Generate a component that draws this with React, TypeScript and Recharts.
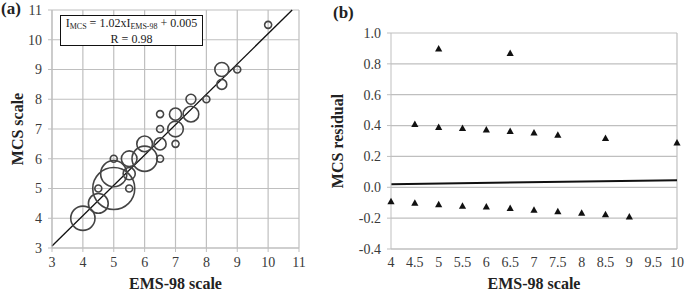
import React from 'react'
import {
  ScatterChart,
  Scatter,
  XAxis,
  YAxis,
  ZAxis,
  CartesianGrid,
  ReferenceLine,
  Label,
} from 'recharts'

// (a) bubble plot: EMS-98 vs MCS, z = number of observations
const bubbleEms = [4, 4.5, 4.5, 5, 5, 5, 5.5, 5.5, 5.5, 6, 6, 6.5, 6.5, 6.5, 6.5, 7, 7, 7, 7.5, 7.5, 8, 8.5, 8.5, 9, 10]
const bubbleMcs = [4, 4.5, 5, 5, 5.5, 6, 5, 5.5, 6, 6, 6.5, 6, 6.5, 7, 7.5, 6.5, 7, 7.5, 7.5, 8, 8, 8.5, 9, 9, 10.5]
const bubbleCount = [12, 8, 1, 36, 14, 1, 1, 3, 5, 13, 5, 1, 3, 1, 1, 1, 5, 3, 5, 2, 1, 2, 4, 1, 1]

const scaleTicks = [3, 4, 5, 6, 7, 8, 9, 10, 11]
const fitSlope = 1.02
const fitIntercept = 0.005

// (b) residuals
const residualEms = [5, 6.5, 4.5, 5, 5.5, 6, 6.5, 7, 7.5, 8.5, 10, 4, 4.5, 5, 5.5, 6, 6.5, 7, 7.5, 8, 8.5, 9]
const residualValues = [0.9, 0.87, 0.41, 0.39, 0.385, 0.375, 0.365, 0.355, 0.34, 0.32, 0.29, -0.09, -0.1, -0.11, -0.12, -0.125, -0.135, -0.145, -0.155, -0.165, -0.175, -0.19]
const residualTrend = [0.02, 0.045]
const residualXTicks = [4, 4.5, 5, 5.5, 6, 6.5, 7, 7.5, 8, 8.5, 9, 9.5, 10]
const residualYTicks = [-0.4, -0.2, 0, 0.2, 0.4, 0.6, 0.8, 1.0]

const bubbles = bubbleEms.map((x, i) => ({ x, y: bubbleMcs[i], z: bubbleCount[i] }))
const residuals = residualEms.map((x, i) => ({ x, y: residualValues[i] }))

const SERIF = 'Liberation Serif'
const GRID = '#bfbfbf'

// axis tick text, drawn by hand so the serif font sticks
function SerifTick({ x, y, payload, orientation, digits }: any) {
  const label = digits ? Number(payload.value).toFixed(digits) : String(payload.value)
  const isY = orientation === 'left'
  return (
    <text
      x={x}
      y={y}
      textAnchor={isY ? 'end' : 'middle'}
      dy={isY ? '0.35em' : '0.71em'}
      fontFamily={SERIF}
      fontSize={14}
      fill="#3a3a3a"
    >
      {label}
    </text>
  )
}

function VerticalTitle({ viewBox, text, cx }: any) {
  const cy = viewBox.y + viewBox.height / 2
  return (
    <text
      x={cx}
      y={cy}
      transform={`rotate(-90 ${cx} ${cy})`}
      textAnchor="middle"
      dy="0.35em"
      fontFamily={SERIF}
      fontWeight="bold"
      fontSize={16}
      fill="#222"
    >
      {text}
    </text>
  )
}

// small filled triangle marker like the original
function Tri({ cx, cy }: any) {
  const h = 3.5
  return <polygon points={`${cx},${cy - h} ${cx + 3.6},${cy + h - 0.5} ${cx - 3.6},${cy + h - 0.5}`} fill="#111" />
}

const titleStyle = { fontFamily: SERIF, fontWeight: 'bold', fontSize: 16, fill: '#222' }

export default function App() {
  const fitTopX = (11 - fitIntercept) / fitSlope

  return (
    <div style={{ position: 'absolute', left: 0, top: 0, width: 685, height: 293, background: '#fff', fontFamily: SERIF }}>
      {/* panel (a) */}
      <div style={{ position: 'absolute', left: 0, top: 0 }}>
        <ScatterChart width={310} height={293} margin={{ top: 10, right: 11, left: 0, bottom: 0 }}>
          <CartesianGrid stroke={GRID} strokeWidth={1.2} />
          <XAxis
            type="number"
            dataKey="x"
            domain={[3, 11]}
            ticks={scaleTicks}
            height={45}
            tickSize={4}
            tickMargin={5}
            stroke={GRID}
            tick={<SerifTick />}
          >
            <Label value="EMS-98 scale" position="insideBottom" offset={4} style={titleStyle} />
          </XAxis>
          <YAxis
            type="number"
            dataKey="y"
            domain={[3, 11]}
            ticks={scaleTicks}
            width={52}
            tickSize={4}
            tickMargin={6}
            stroke={GRID}
            tick={<SerifTick />}
          >
            <Label content={(props: any) => <VerticalTitle {...props} text="MCS scale" cx={17} />} />
          </YAxis>
          <ZAxis type="number" dataKey="z" domain={[0, 36]} range={[0, 36 * 38.5]} />
          <ReferenceLine
            segment={[
              { x: 3, y: fitSlope * 3 + fitIntercept },
              { x: fitTopX, y: 11 },
            ]}
            stroke="#111"
            strokeWidth={1.3}
          />
          <Scatter data={bubbles} fill="none" stroke="#444" strokeWidth={1.6} isAnimationActive={false} />
        </ScatterChart>
        <div
          style={{
            position: 'absolute',
            left: 60,
            top: 15,
            width: 141,
            height: 28,
            border: '1.5px solid #111',
            background: '#fff',
            fontSize: 12,
            lineHeight: '13px',
            textAlign: 'center',
            color: '#222',
            paddingTop: 1,
          }}
        >
          <div>
            I<sub style={{ fontSize: 8, verticalAlign: '-2px' }}>MCS</sub> = 1.02xI
            <sub style={{ fontSize: 8, verticalAlign: '-2px' }}>EMS-98</sub> + 0.005
          </div>
          <div>R = 0.98</div>
        </div>
        <div style={{ position: 'absolute', left: 1, top: -1, fontSize: 17, fontWeight: 'bold', color: '#222' }}>(a)</div>
      </div>

      {/* panel (b) */}
      <div style={{ position: 'absolute', left: 330, top: 0 }}>
        <ScatterChart width={355} height={293} margin={{ top: 33, right: 8, left: 0, bottom: 0 }}>
          <CartesianGrid stroke={GRID} strokeWidth={1.2} vertical={false} />
          <XAxis
            type="number"
            dataKey="x"
            domain={[4, 10]}
            ticks={residualXTicks}
            height={44}
            tickSize={0}
            tickMargin={8}
            stroke={GRID}
            tick={<SerifTick />}
            interval={0}
          >
            <Label value="EMS-98 scale" position="insideBottom" offset={4} style={titleStyle} />
          </XAxis>
          <YAxis
            type="number"
            dataKey="y"
            domain={[-0.4, 1.0]}
            ticks={residualYTicks}
            width={61}
            tickSize={4}
            tickMargin={6}
            stroke={GRID}
            tick={<SerifTick digits={1} />}
            interval={0}
          >
            <Label content={(props: any) => <VerticalTitle {...props} text="MCS residual" cx={7} />} />
          </YAxis>
          <ReferenceLine x={10} stroke={GRID} strokeWidth={1.2} />
          <ReferenceLine
            segment={[
              { x: 4, y: residualTrend[0] },
              { x: 10, y: residualTrend[1] },
            ]}
            stroke="#111"
            strokeWidth={2}
          />
          <Scatter data={residuals} shape={<Tri />} fill="#111" isAnimationActive={false} />
        </ScatterChart>
        <div style={{ position: 'absolute', left: 3, top: 3, fontSize: 17, fontWeight: 'bold', color: '#222' }}>(b)</div>
      </div>
    </div>
  )
}
